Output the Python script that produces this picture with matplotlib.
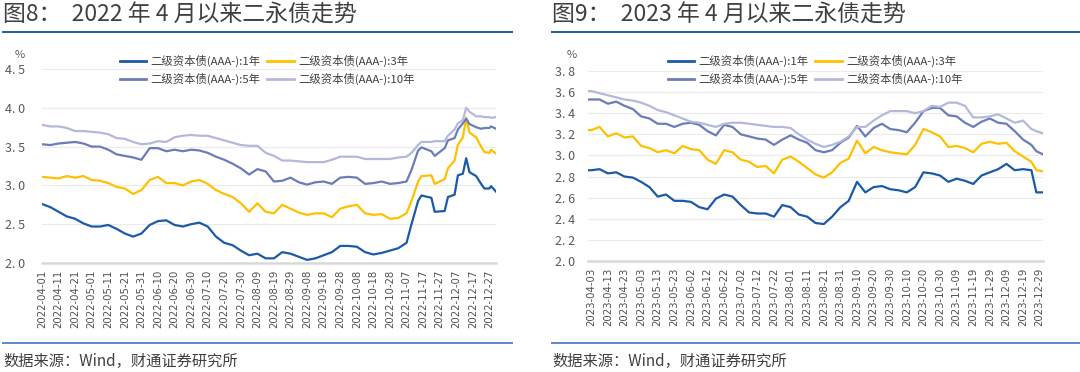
import matplotlib.pyplot as plt
import matplotlib.dates as mdates
from matplotlib.lines import Line2D
from matplotlib.ticker import FuncFormatter, MultipleLocator
import pandas as pd

plt.rcParams['font.family'] = ['Noto Sans CJK SC', 'DejaVu Sans']

labels = ['二级资本债(AAA-):1年', '二级资本债(AAA-):3年',
          '二级资本债(AAA-):5年', '二级资本债(AAA-):10年']
colors = ['#1c5aa8', '#ffc000', '#6b7db8', '#b4b9da']

# 2022 panel
dates22 = ['04-01', '04-06', '04-11', '04-16', '04-21', '04-26', '05-01', '05-06',
           '05-11', '05-16', '05-21', '05-26', '05-31', '06-05', '06-10', '06-15',
           '06-20', '06-25', '06-30', '07-05', '07-10', '07-15', '07-20', '07-25',
           '07-30', '08-04', '08-09', '08-14', '08-19', '08-24', '08-29', '09-03',
           '09-08', '09-13', '09-18', '09-23', '09-28', '10-03', '10-08', '10-13',
           '10-18', '10-23', '10-28', '11-02', '11-07', '11-10', '11-14', '11-16',
           '11-22', '11-24', '11-30', '12-02', '12-06', '12-08', '12-11', '12-13',
           '12-15', '12-19', '12-22', '12-24', '12-27', '12-28', '12-31']
y1_22 = [2.76, 2.72, 2.66, 2.60, 2.57, 2.51, 2.47, 2.47, 2.49, 2.44, 2.38, 2.34,
         2.38, 2.49, 2.54, 2.55, 2.49, 2.47, 2.50, 2.52, 2.47, 2.34, 2.26, 2.23,
         2.16, 2.10, 2.12, 2.06, 2.06, 2.14, 2.12, 2.08, 2.04, 2.06, 2.10, 2.14,
         2.22, 2.22, 2.21, 2.14, 2.11, 2.13, 2.16, 2.19, 2.26, 2.50, 2.80, 2.87,
         2.84, 2.66, 2.67, 2.85, 2.88, 3.13, 3.15, 3.35, 3.17, 3.12, 3.02, 2.96,
         2.96, 2.99, 2.92]
y3_22 = [3.11, 3.10, 3.09, 3.12, 3.10, 3.12, 3.07, 3.06, 3.03, 2.98, 2.96, 2.89,
         2.94, 3.07, 3.11, 3.03, 3.03, 3.00, 3.05, 3.07, 3.02, 2.94, 2.89, 2.85,
         2.77, 2.66, 2.77, 2.66, 2.64, 2.75, 2.70, 2.65, 2.62, 2.64, 2.64, 2.59,
         2.70, 2.73, 2.75, 2.64, 2.62, 2.63, 2.57, 2.58, 2.64, 2.80, 3.05, 3.12,
         3.13, 3.02, 3.08, 3.22, 3.32, 3.52, 3.62, 3.87, 3.68, 3.62, 3.50, 3.43,
         3.42, 3.46, 3.41]
y5_22 = [3.53, 3.52, 3.54, 3.55, 3.56, 3.54, 3.50, 3.50, 3.46, 3.40, 3.38, 3.36,
         3.33, 3.48, 3.48, 3.44, 3.46, 3.44, 3.46, 3.45, 3.42, 3.37, 3.33, 3.28,
         3.22, 3.14, 3.21, 3.18, 3.05, 3.06, 3.10, 3.04, 3.01, 3.04, 3.05, 3.02,
         3.10, 3.11, 3.10, 3.02, 3.03, 3.05, 3.02, 3.03, 3.05, 3.20, 3.45, 3.49,
         3.44, 3.38, 3.48, 3.58, 3.61, 3.72, 3.80, 3.86, 3.79, 3.75, 3.73, 3.74,
         3.74, 3.76, 3.73]
y10_22 = [3.78, 3.76, 3.76, 3.74, 3.70, 3.70, 3.69, 3.68, 3.66, 3.61, 3.60, 3.56,
          3.53, 3.54, 3.57, 3.56, 3.62, 3.64, 3.65, 3.64, 3.64, 3.61, 3.58, 3.55,
          3.52, 3.51, 3.51, 3.42, 3.38, 3.32, 3.32, 3.31, 3.30, 3.30, 3.30, 3.33,
          3.37, 3.37, 3.37, 3.34, 3.34, 3.34, 3.34, 3.36, 3.37, 3.42, 3.52, 3.56,
          3.56, 3.57, 3.57, 3.64, 3.72, 3.80, 3.84, 4.00, 3.95, 3.89, 3.89, 3.88,
          3.88, 3.87, 3.88]

# 2023 panel
dates23 = ['04-01', '04-03', '04-08', '04-13', '04-18', '04-23', '04-28', '05-03',
           '05-08', '05-13', '05-18', '05-23', '05-28', '06-02', '06-07', '06-12',
           '06-17', '06-22', '06-27', '07-02', '07-07', '07-12', '07-17', '07-22',
           '07-27', '08-01', '08-06', '08-11', '08-16', '08-21', '08-26', '08-31',
           '09-05', '09-10', '09-15', '09-20', '09-25', '09-30', '10-05', '10-10',
           '10-15', '10-20', '10-25', '10-30', '11-04', '11-09', '11-14', '11-19',
           '11-24', '11-29', '12-04', '12-09', '12-14', '12-19', '12-24', '12-27',
           '12-31']
y1_23 = [2.86, 2.86, 2.87, 2.83, 2.84, 2.80, 2.79, 2.75, 2.70, 2.61, 2.63, 2.57,
         2.57, 2.56, 2.51, 2.49, 2.59, 2.63, 2.61, 2.53, 2.46, 2.45, 2.45, 2.42,
         2.53, 2.51, 2.44, 2.42, 2.36, 2.35, 2.42, 2.51, 2.57, 2.75, 2.65, 2.70,
         2.71, 2.68, 2.67, 2.65, 2.70, 2.84, 2.83, 2.81, 2.75, 2.78, 2.76, 2.73,
         2.81, 2.84, 2.87, 2.92, 2.86, 2.87, 2.86, 2.65, 2.65]
y3_23 = [3.24, 3.24, 3.27, 3.18, 3.21, 3.17, 3.18, 3.09, 3.07, 3.03, 3.05, 3.02,
         3.09, 3.06, 3.05, 2.96, 2.92, 3.05, 3.03, 2.96, 2.94, 2.89, 2.90, 2.83,
         2.96, 2.99, 2.94, 2.88, 2.82, 2.79, 2.84, 2.93, 2.97, 3.14, 3.02, 3.08,
         3.05, 3.03, 3.02, 3.01, 3.10, 3.25, 3.22, 3.18, 3.08, 3.09, 3.07, 3.03,
         3.11, 3.13, 3.11, 3.12, 3.04, 2.99, 2.94, 2.86, 2.85]
y5_23 = [3.53, 3.53, 3.53, 3.49, 3.51, 3.47, 3.44, 3.37, 3.35, 3.30, 3.30, 3.27,
         3.30, 3.31, 3.29, 3.23, 3.19, 3.29, 3.27, 3.20, 3.18, 3.16, 3.15, 3.10,
         3.15, 3.19, 3.15, 3.12, 3.05, 3.03, 3.05, 3.12, 3.17, 3.28, 3.18, 3.26,
         3.30, 3.25, 3.24, 3.22, 3.31, 3.42, 3.45, 3.45, 3.38, 3.37, 3.31, 3.27,
         3.32, 3.35, 3.31, 3.30, 3.23, 3.15, 3.10, 3.04, 3.01]
y10_23 = [3.61, 3.61, 3.59, 3.57, 3.55, 3.53, 3.52, 3.50, 3.47, 3.43, 3.41, 3.38,
          3.35, 3.32, 3.31, 3.29, 3.27, 3.30, 3.31, 3.31, 3.30, 3.29, 3.28, 3.27,
          3.27, 3.26, 3.20, 3.15, 3.11, 3.08, 3.10, 3.13, 3.18, 3.27, 3.27, 3.33,
          3.38, 3.42, 3.42, 3.42, 3.40, 3.42, 3.47, 3.46, 3.50, 3.50, 3.47, 3.36,
          3.36, 3.37, 3.39, 3.35, 3.31, 3.33, 3.25, 3.23, 3.21]

W, H = 1080, 372
fig = plt.figure(figsize=(W / 100, H / 100), dpi=100)


def px(x, y):
    return x / W, 1 - y / H


def draw_panel(year, dates, series, rect, ylim, ystep, first_tick, ypad,
               x0, x1, title, pct_x, leg_x):
    l, t, r, b = rect
    ax = fig.add_axes([l / W, 1 - b / H, (r - l) / W, (b - t) / H])
    d = pd.to_datetime([f'{year}-{s}' for s in dates])
    for vals, c in zip(series, colors):
        ax.plot(d, vals, color=c, lw=1.6)
    ax.set_xlim(pd.Timestamp(f'{year}-04-01'), pd.Timestamp(f'{year}-12-31'))
    ax.set_ylim(*ylim)
    ax.yaxis.set_major_locator(MultipleLocator(ystep))
    ax.yaxis.set_major_formatter(FuncFormatter(lambda v, p: f'{v:.1f}'.replace('.', '. ')))
    ax.set_xticks(pd.date_range(f'{year}-{first_tick}', f'{year}-12-31', freq='10D'))
    ax.xaxis.set_major_formatter(mdates.DateFormatter('%Y-%m-%d'))
    ax.tick_params(axis='x', labelrotation=90, labelsize=7.3, colors='#505050', length=0, pad=5)
    for lab in ax.get_xticklabels():
        lab.set_family('DejaVu Sans')
    ax.tick_params(axis='y', labelsize=9, colors='#595959', length=0, pad=ypad)
    ax.grid(axis='y', color='#ebebeb', lw=0.8)
    ax.set_axisbelow(True)
    for s in ['top', 'right', 'left']:
        ax.spines[s].set_visible(False)
    ax.spines['bottom'].set_color('#d9d9d9')
    ax.spines['bottom'].set_linewidth(1.8)

    fig.text(*px(x0, 15), title, fontsize=16.5, color='#404040', va='center', ha='left')
    fig.add_artist(Line2D([x0 / W, x1 / W], [1 - 32 / H] * 2, color='#1f5ca8', lw=1.4))
    fig.add_artist(Line2D([x0 / W, x1 / W], [1 - 343 / H] * 2, color='#5b8ac6', lw=1.4))
    fig.text(*px(x0, 361), '数据来源：Wind，财通证券研究所', fontsize=11,
             color='#404040', va='center', ha='left')
    fig.text(*px(pct_x, 55), '%', fontsize=8, color='#595959', va='center', ha='center')

    order = [0, 2, 1, 3]
    handles = [Line2D([], [], color=colors[i], lw=2) for i in order]
    fig.legend(handles, [labels[i] for i in order], ncol=2, loc='upper left',
               bbox_to_anchor=px(leg_x, 49), frameon=False, borderpad=0,
               fontsize=8.2, handlelength=2.3, handletextpad=0.4,
               columnspacing=0.6, labelspacing=0.55, labelcolor='#404040')
    return ax


draw_panel(2022, dates22, [y1_22, y3_22, y5_22, y10_22], (42, 69, 496, 263),
           (2.0, 4.5), 0.5, '04-01', 12, 3, 512,
           '图8：  2022 年 4 月以来二永债走势', 20, 114)
draw_panel(2023, dates23, [y1_23, y3_23, y5_23, y10_23], (588, 71, 1043, 261),
           (2.0, 3.8), 0.2, '04-03', 9, 552, 1080,
           '图9：  2023 年 4 月以来二永债走势', 572, 662)

fig.savefig('out.png', dpi=100, facecolor='white')
